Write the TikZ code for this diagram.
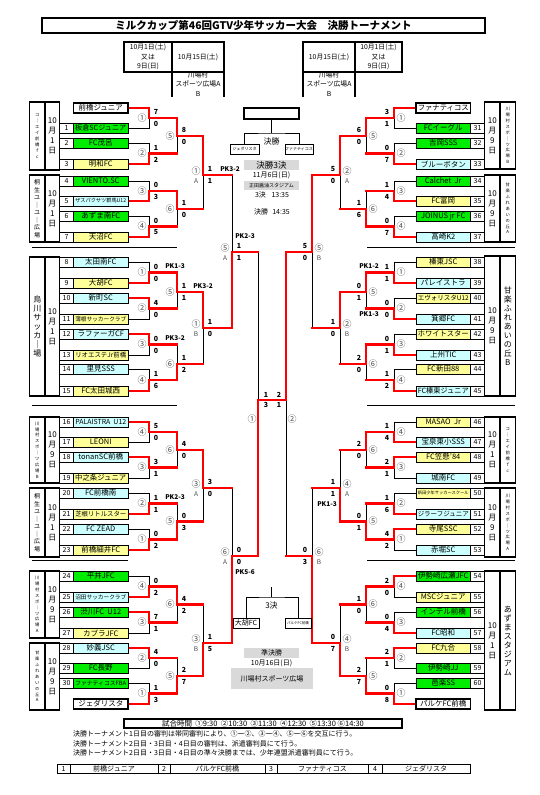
\documentclass[tikz,border=0pt]{standalone}
\usepackage{fontspec}
\setmainfont{Noto Sans CJK JP}
\usepackage{graphicx}
\usetikzlibrary{positioning}
\usetikzlibrary{calc}
\usetikzlibrary{backgrounds}

\definecolor{tgreen}{RGB}{0,236,0}
\definecolor{tyellow}{RGB}{255,255,153}
\definecolor{tcyan}{RGB}{204,255,255}
\definecolor{bandgray}{RGB}{217,217,217}
\definecolor{winred}{RGB}{255,0,0}

\newsavebox\namesave
\newcommand\fitname[1]{\sbox\namesave{#1}\ifdim\wd\namesave>51pt\resizebox{51pt}{!}{\usebox\namesave}\else\usebox\namesave\fi}
\newcommand\vsmall{\fontsize{4.3}{5.9}\selectfont}
\newcommand\vmid{\fontsize{6}{7.5}\selectfont}
\newcommand\vbig{\fontsize{8}{9}\selectfont}
\newcommand\lab[2]{#1\\{\fontsize{6.5}{6.5}\selectfont #2}}

% venue and date columns
\newcommand\groupL[5]{%
  \draw[gbox] (29.5,#1) rectangle (45,#2);
  \draw[gbox] (45,#1) rectangle (59.5,#2);
  \node[venue, font=#3] (lv#1) at (37.25,{(#1+#2)/2}) {#4};
  \node[datecol] (ld#1) at (52.25,{(#1+#2)/2}) {#5};}
\newcommand\groupR[5]{%
  \draw[gbox] (484.5,#1) rectangle (500,#2);
  \draw[gbox] (500,#1) rectangle (515.5,#2);
  \node[datecol] (rd#1) at (492.25,{(#1+#2)/2}) {#5};
  \node[venue, font=#3] (rv#1) at (507.75,{(#1+#2)/2}) {#4};}

% teams
\newcommand\teamL[5]{%
  \node[numcell] (#1n) at (66.5,#2) {#3};
  \node[namebox, fill=#4] (#1) at (100.75,#2) {\fitname{#5}};}
\newcommand\teamR[5]{%
  \node[numcell] (#1n) at (477.5,#2) {#3};
  \node[namebox, fill=#4] (#1) at (443.25,#2) {\fitname{#5}};}
\newcommand\seedL[3]{\node[seedbox] (#1) at (100.75,#2) {\fitname{#3}};}
\newcommand\seedR[3]{\node[seedbox] (#1) at (443.25,#2) {\fitname{#3}};}

% matches
\newcommand\firstbout[6]{%
  \coordinate (#1) at (#2,#3);
  \draw[wire] (#4) -| (#1);
  \draw[wire] (#5) -| (#1);
  \draw[win] (#6) -| (#1);}
\newcommand\laterbout[6]{%
  \coordinate (#1) at (#2,#3);
  \draw[wire] (#4) -| (#1);
  \draw[wire] (#5) -| (#1);
  \draw[win] (#4) -- (#4 -| #1);
  \draw[win] (#5) -- (#5 -| #1);
  \draw[win] (#6) -| (#1);}
\newcommand\tagL[4]{%
  \node[circ] (c#1) at ($(#1)+(-7,0)$) {#2};
  \node[score] (st#1) at ($(#1)+(7,-6)$) {#3};
  \node[score] (sb#1) at ($(#1)+(7,6)$) {#4};}
\newcommand\tagR[4]{%
  \node[circ] (c#1) at ($(#1)+(7,0)$) {#2};
  \node[score] (st#1) at ($(#1)+(-7,-6)$) {#3};
  \node[score] (sb#1) at ($(#1)+(-7,6)$) {#4};}

\begin{document}
\begin{tikzpicture}[x=1pt, y=-1pt,
    namebox/.style={draw, line width=1pt, minimum width=54.5pt, minimum height=10pt, inner sep=0pt, font=\fontsize{7.5}{8}\selectfont},
    seedbox/.style={namebox, line width=1.5pt, fill=white},
    numcell/.style={draw, line width=0.5pt, minimum width=14pt, minimum height=10pt, inner sep=0pt, font=\fontsize{7}{8}\selectfont},
    gbox/.style={draw, line width=1.6pt},
    venue/.style={align=center, inner sep=0pt},
    datecol/.style={align=center, inner sep=0pt, font=\fontsize{8}{10}\selectfont},
    wire/.style={draw, line width=0.6pt},
    win/.style={draw=winred, line width=2.6pt, line cap=rect},
    circ/.style={align=center, inner sep=0pt, text=black!70, font=\fontsize{9}{9}\selectfont},
    score/.style={inner sep=0pt, font=\bfseries\fontsize{7}{7}\selectfont},
    pk/.style={inner sep=0pt, font=\bfseries\fontsize{6.5}{7}\selectfont},
    band/.style={fill=bandgray, inner sep=0pt, minimum width=55pt, minimum height=10pt},
    tinybox/.style={draw, line width=0.8pt, inner sep=0pt, minimum height=10pt},
    hdr/.style={draw, line width=1.3pt},
    hdrtext/.style={align=center, inner sep=0pt, font=\fontsize{6.8}{9.5}\selectfont},
    divider/.style={draw, line width=0.7pt},
    note/.style={anchor=west, inner sep=0pt, font=\fontsize{7}{8}\selectfont},
    cell/.style={draw, line width=1pt, outer sep=0pt, inner sep=0pt, minimum height=8.5pt, font=\fontsize{7}{8}\selectfont}
]
    \useasboundingbox (0,0) rectangle (539,795);

    % Title
    \node[draw, line width=1.5pt, minimum width=443pt, minimum height=15pt, inner sep=0pt,
          font=\bfseries\fontsize{10.5}{11}\selectfont] (title) at (263.5,25.5)
          {ミルクカップ第46回GTV少年サッカー大会\hspace{1em}決勝トーナメント};

    % Date tables
    \draw[hdr] (124,42) rectangle (224,72);
    \draw[hdr] (172,42) -- (172,97);
    \draw[hdr] (224,72) -- (224,97);
    \node[hdrtext] (dl1) at (148,57) {10月1日(土)\\又は\\9日(日)};
    \node[hdrtext] (dl2) at (198,57) {10月15日(土)};
    \begin{scope}
        \clip (172,72.7) rectangle (224,97);
        \node[hdrtext] (dl3) at (198,84) {川場村\\スポーツ広場A\\B};
    \end{scope}
    \draw[hdr] (303,42) rectangle (402,72);
    \draw[hdr] (355,42) -- (355,97);
    \draw[hdr] (303,72) -- (303,97);
    \node[hdrtext] (dr1) at (329,57) {10月15日(土)};
    \node[hdrtext] (dr2) at (378.5,57) {10月1日(土)\\又は\\9日(日)};
    \begin{scope}
        \clip (303,72.7) rectangle (355,97);
        \node[hdrtext] (dr3) at (329,84) {川場村\\スポーツ広場A\\B};
    \end{scope}

    % Left groups
    \groupL{102}{170}{\vsmall}{コ\\｜\\エ\\イ\\前\\橋\\ｆ\\ｃ}{10\\月\\1\\日}
    \groupL{175}{242}{\vmid}{桐\\生\\ユ\\｜\\ユ\\｜\\広\\場}{10\\月\\1\\日}
    \groupL{257}{396}{\vbig}{烏\\川\\サ\\ッ\\カ\\｜\\場}{10\\月\\1\\日}
    \groupL{417}{483}{\vsmall}{川\\場\\村\\ス\\ポ\\｜\\ツ\\広\\場\\B}{10\\月\\9\\日}
    \groupL{488}{557}{\vmid}{桐\\生\\ユ\\｜\\ユ\\｜\\広\\場}{10\\月\\1\\日}
    \groupL{571}{638}{\vsmall}{川\\場\\村\\ス\\ポ\\｜\\ツ\\広\\場\\A}{10\\月\\9\\日}
    \groupL{643}{710}{\vsmall}{甘\\楽\\ふ\\れ\\あ\\い\\の\\丘\\A}{10\\月\\9\\日}

    % Right groups
    \groupR{102}{169}{\vsmall}{川\\場\\村\\ス\\ポ\\｜\\ツ\\広\\場\\B}{10\\月\\9\\日}
    \groupR{175}{242}{\vsmall}{甘\\楽\\ふ\\れ\\あ\\い\\の\\丘\\A}{10\\月\\9\\日}
    \groupR{256}{396}{\vbig}{甘\\楽\\ふ\\れ\\あ\\い\\の\\丘\\B}{10\\月\\9\\日}
    \groupR{417}{483}{\vsmall}{コ\\｜\\エ\\イ\\前\\橋\\ｆ\\ｃ}{10\\月\\1\\日}
    \groupR{488}{557}{\vsmall}{川\\場\\村\\ス\\ポ\\｜\\ツ\\広\\場\\A}{10\\月\\9\\日}
    \groupR{571}{710}{\vbig}{あ\\ず\\ま\\ス\\タ\\ジ\\ア\\ム}{10\\月\\1\\日}

    % Left teams
    \seedL{a0}{108}{前橋ジュニア}
    \teamL{a1}{128}{1}{tgreen}{板倉SCジュニア}
    \teamL{a2}{143}{2}{tgreen}{FC茂呂}
    \teamL{a3}{164}{3}{tyellow}{明和FC}
    \teamL{a4}{181}{4}{tgreen}{VIENTO.SC}
    \teamL{a5}{201}{5}{tcyan}{ザスパクサツ群馬U12}
    \teamL{a6}{216}{6}{tgreen}{あずま南FC}
    \teamL{a7}{237}{7}{tyellow}{天沼FC}
    \teamL{a8}{262}{8}{tcyan}{太田南FC}
    \teamL{a9}{283}{9}{tyellow}{大胡FC}
    \teamL{a10}{298}{10}{tcyan}{新町SC}
    \teamL{a11}{319}{11}{tyellow}{薄根サッカークラブ}
    \teamL{a12}{334}{12}{tcyan}{ラファーガCF}
    \teamL{a13}{355}{13}{tyellow}{リオエステJr前橋}
    \teamL{a14}{369}{14}{tcyan}{里見SSS}
    \teamL{a15}{391}{15}{tyellow}{FC太田城西}
    \teamL{a16}{422}{16}{tcyan}{PALAISTRA\ \ U12}
    \teamL{a17}{442}{17}{tyellow}{LEONI}
    \teamL{a18}{457}{18}{tcyan}{tonanSC前橋}
    \teamL{a19}{478}{19}{tyellow}{中之条ジュニア}
    \teamL{a20}{493}{20}{tcyan}{FC前橋南}
    \teamL{a21}{514}{21}{tyellow}{芝根リトルスター}
    \teamL{a22}{529}{22}{tcyan}{FC ZEAD}
    \teamL{a23}{550}{23}{tyellow}{前橋細井FC}
    \teamL{a24}{576}{24}{tgreen}{平井JFC}
    \teamL{a25}{597}{25}{tcyan}{沼田サッカークラブ}
    \teamL{a26}{612}{26}{tgreen}{渋川FC\ \ U12}
    \teamL{a27}{633}{27}{tyellow}{カブラJFC}
    \teamL{a28}{648}{28}{tcyan}{妙義JSC}
    \teamL{a29}{668}{29}{tgreen}{FC長野}
    \teamL{a30}{683}{30}{tgreen}{ファナティコスFBA}
    \seedL{a31}{704}{ジェダリスタ}

    % Right teams
    \seedR{b0}{108}{ファナティコス}
    \teamR{b31}{128}{31}{tgreen}{FCイーグル}
    \teamR{b32}{143}{32}{tgreen}{吉岡SSS}
    \teamR{b33}{164}{33}{tcyan}{ブルーボタン}
    \teamR{b34}{181}{34}{tgreen}{Calchet\ \ Jr}
    \teamR{b35}{201}{35}{tyellow}{FC富岡}
    \teamR{b36}{216}{36}{tgreen}{JOINUS jr FC}
    \teamR{b37}{237}{37}{tcyan}{高崎K2}
    \teamR{b38}{262}{38}{tyellow}{榛東JSC}
    \teamR{b39}{283}{39}{tcyan}{パレイストラ}
    \teamR{b40}{298}{40}{tyellow}{エヴォリスタU12}
    \teamR{b41}{319}{41}{tcyan}{箕郷FC}
    \teamR{b42}{334}{42}{tyellow}{ホワイトスター}
    \teamR{b43}{355}{43}{tcyan}{上州TIC}
    \teamR{b44}{369}{44}{tyellow}{FC新田88}
    \teamR{b45}{391}{45}{tcyan}{FC榛東ジュニア}
    \teamR{b46}{422}{46}{tyellow}{MASAO\ \ Jr}
    \teamR{b47}{442}{47}{tcyan}{宝泉東小SSS}
    \teamR{b48}{457}{48}{tyellow}{FC笠懸'84}
    \teamR{b49}{478}{49}{tcyan}{城南FC}
    \teamR{b50}{493}{50}{tyellow}{新田少年サッカースクール}
    \teamR{b51}{514}{51}{tcyan}{ジラーフジュニア}
    \teamR{b52}{529}{52}{tyellow}{寺尾SSC}
    \teamR{b53}{550}{53}{tcyan}{赤堀SC}
    \teamR{b54}{576}{54}{tgreen}{伊勢崎広瀬JFC}
    \teamR{b55}{597}{55}{tyellow}{MSCジュニア}
    \teamR{b56}{612}{56}{tgreen}{インテル前橋}
    \teamR{b57}{633}{57}{tcyan}{FC昭和}
    \teamR{b58}{648}{58}{tyellow}{FC九合}
    \teamR{b59}{668}{59}{tgreen}{伊勢崎JJ}
    \teamR{b60}{683}{60}{tgreen}{邑楽SS}
    \seedR{b61}{704}{パルケFC前橋}

    % Separators
    \draw[divider] (32,247) -- (177,247);
    \draw[divider] (32,405) -- (177,405);
    \draw[divider] (32,560) -- (128,560);
    \draw[divider] (367,247) -- (515,247);
    \draw[divider] (367,405) -- (515,405);
    \draw[divider] (367,560) -- (515,560);

    % Bracket lines
    \begin{scope}[on background layer]
        % left top
        \firstbout{l1}{149}{118}{a0.east}{a1.east}{a0.east}
        \firstbout{l2}{149}{153.5}{a2.east}{a3.east}{a3.east}
        \laterbout{l5}{177}{136}{l1}{l2}{l1}
        \firstbout{l3}{149}{191}{a4.east}{a5.east}{a5.east}
        \firstbout{l4}{149}{226.5}{a6.east}{a7.east}{a7.east}
        \laterbout{l6}{177}{209}{l3}{l4}{l3}
        \laterbout{l1A}{203}{175}{l5}{l6}{l5}
        % left 8-15
        \firstbout{m1}{149}{272.5}{a8.east}{a9.east}{a9.east}
        \firstbout{m2}{149}{308.5}{a10.east}{a11.east}{a10.east}
        \laterbout{m5}{177}{292}{m1}{m2}{m1}
        \firstbout{m3}{149}{344.5}{a12.east}{a13.east}{a12.east}
        \firstbout{m4}{149}{380}{a14.east}{a15.east}{a15.east}
        \laterbout{m6}{177}{364}{m3}{m4}{m4}
        \laterbout{l1B}{203}{328}{m5}{m6}{m5}
        \laterbout{l5A}{232}{252}{l1A}{l1B}{l1B}
        % left 16-23
        \firstbout{n4}{149}{432}{a16.east}{a17.east}{a16.east}
        \firstbout{n3}{149}{467.5}{a18.east}{a19.east}{a18.east}
        \laterbout{n6}{177}{450}{n4}{n3}{n4}
        \firstbout{n2}{149}{503.5}{a20.east}{a21.east}{a21.east}
        \firstbout{n1}{149}{539.5}{a22.east}{a23.east}{a23.east}
        \laterbout{n5}{177}{521.5}{n2}{n1}{n1}
        \laterbout{l3A}{203}{488}{n6}{n5}{n6}
        % left 24-30
        \firstbout{p4}{149}{586.5}{a24.east}{a25.east}{a25.east}
        \firstbout{p3}{149}{622.5}{a26.east}{a27.east}{a26.east}
        \laterbout{p6}{177}{604.5}{p4}{p3}{p4}
        \firstbout{p2}{149}{658}{a28.east}{a29.east}{a28.east}
        \firstbout{p1}{149}{693.5}{a30.east}{a31.east}{a31.east}
        \laterbout{p5}{177}{676}{p2}{p1}{p1}
        \laterbout{l3B}{203}{643}{p6}{p5}{p5}
        \laterbout{l6A}{232}{556}{l3A}{l3B}{l3B}
        % right top
        \firstbout{r1}{394}{118}{b0.west}{b31.west}{b0.west}
        \firstbout{r2}{394}{153.5}{b32.west}{b33.west}{b33.west}
        \laterbout{r5}{366}{136}{r1}{r2}{r1}
        \firstbout{r3}{394}{191}{b34.west}{b35.west}{b35.west}
        \firstbout{r4}{394}{226.5}{b36.west}{b37.west}{b37.west}
        \laterbout{r6}{366}{209}{r3}{r4}{r4}
        \laterbout{r2A}{340}{175}{r5}{r6}{r5}
        % right 38-45
        \firstbout{q1}{394}{272.5}{b38.west}{b39.west}{b39.west}
        \firstbout{q2}{394}{308.5}{b40.west}{b41.west}{b41.west}
        \laterbout{q5}{366}{292}{q1}{q2}{q1}
        \firstbout{q3}{394}{344.5}{b42.west}{b43.west}{b43.west}
        \firstbout{q4}{394}{380}{b44.west}{b45.west}{b45.west}
        \laterbout{q6}{366}{364}{q3}{q4}{q3}
        \laterbout{r2B}{340}{328}{q5}{q6}{q5}
        \laterbout{r5B}{312}{252}{r2A}{r2B}{r2A}
        % right 46-53
        \firstbout{u4}{394}{432}{b46.west}{b47.west}{b47.west}
        \firstbout{u3}{394}{467.5}{b48.west}{b49.west}{b48.west}
        \laterbout{u6}{366}{450}{u4}{u3}{u4}
        \firstbout{u2}{394}{503.5}{b50.west}{b51.west}{b51.west}
        \firstbout{u1}{394}{539.5}{b52.west}{b53.west}{b52.west}
        \laterbout{u5}{366}{521.5}{u2}{u1}{u1}
        \laterbout{r4A}{340}{488}{u6}{u5}{u5}
        % right 54-60
        \firstbout{v4}{394}{586.5}{b54.west}{b55.west}{b54.west}
        \firstbout{v3}{394}{622.5}{b56.west}{b57.west}{b57.west}
        \laterbout{v6}{366}{604.5}{v4}{v3}{v4}
        \firstbout{v2}{394}{658}{b58.west}{b59.west}{b58.west}
        \firstbout{v1}{394}{693.5}{b60.west}{b61.west}{b61.west}
        \laterbout{v5}{366}{676}{v2}{v1}{v1}
        \laterbout{r4B}{340}{643}{v6}{v5}{v5}
        \laterbout{r6B}{312}{556}{r4A}{r4B}{r4B}
        % semi finals
        \laterbout{s1}{258}{400}{l5A}{l6A}{l6A}
        \laterbout{s2}{286}{400}{r5B}{r6B}{r5B}
        \draw[win] (s1) -- (s2);
    \end{scope}

    % Left labels
    \tagL{l1}{①}{7}{0}
    \tagL{l2}{②}{1}{2}
    \tagL{l5}{⑤}{8}{0}
    \tagL{l3}{③}{0}{3}
    \tagL{l4}{④}{0}{5}
    \tagL{l6}{⑥}{1}{0}
    \tagL{l1A}{\lab{①}{A}}{1}{1}
    \node[pk] (pkl1A) at ($(l1A)+(27,-6)$) {PK3-2};
    \tagL{m1}{①}{0}{0}
    \node[pk] (pkm1) at ($(m1)+(26,-6)$) {PK1-3};
    \tagL{m2}{②}{4}{0}
    \tagL{m5}{⑤}{1}{1}
    \node[pk] (pkm5) at ($(m5)+(26,-6)$) {PK3-2};
    \tagL{m3}{③}{0}{0}
    \node[pk] (pkm3) at ($(m3)+(26,-6)$) {PK3-2};
    \tagL{m4}{④}{1}{6}
    \tagL{m6}{⑥}{1}{2}
    \tagL{l1B}{\lab{①}{B}}{1}{0}
    \tagL{l5A}{\lab{⑤}{A}}{1}{1}
    \node[pk] (pkl5A) at ($(l5A)+(13,-16)$) {PK2-3};
    \tagL{n4}{④}{5}{0}
    \tagL{n3}{③}{3}{1}
    \tagL{n6}{⑥}{4}{0}
    \tagL{n2}{②}{1}{1}
    \node[pk] (pkn2) at ($(n2)+(26,-6)$) {PK2-3};
    \tagL{n1}{①}{0}{2}
    \tagL{n5}{⑤}{0}{3}
    \tagL{l3A}{\lab{③}{A}}{3}{0}
    \tagL{p4}{④}{0}{2}
    \tagL{p3}{③}{7}{1}
    \tagL{p6}{⑥}{4}{2}
    \tagL{p2}{②}{4}{0}
    \tagL{p1}{①}{1}{3}
    \tagL{p5}{⑤}{2}{7}
    \tagL{l3B}{\lab{③}{B}}{1}{5}
    \tagL{l6A}{\lab{⑥}{A}}{0}{0}
    \node[pk] (pkl6A) at ($(l6A)+(13,16)$) {PK5-6};

    % Right labels
    \tagR{r1}{①}{3}{1}
    \tagR{r2}{②}{0}{7}
    \tagR{r5}{⑤}{6}{0}
    \tagR{r3}{③}{1}{4}
    \tagR{r4}{④}{0}{7}
    \tagR{r6}{⑥}{1}{6}
    \tagR{r2A}{\lab{②}{A}}{5}{0}
    \tagR{q1}{①}{1}{1}
    \node[pk] (pkq1) at ($(q1)+(-25,-6)$) {PK1-2};
    \tagR{q2}{②}{0}{0}
    \node[pk] (pkq2) at ($(q2)+(-25,6)$) {PK1-3};
    \tagR{q5}{⑤}{0}{1}
    \tagR{q3}{③}{0}{1}
    \tagR{q4}{④}{1}{2}
    \tagR{q6}{⑥}{2}{0}
    \tagR{r2B}{\lab{②}{B}}{1}{0}
    \tagR{r5B}{\lab{⑤}{B}}{5}{0}
    \tagR{u4}{④}{1}{4}
    \tagR{u3}{③}{2}{1}
    \tagR{u6}{⑥}{2}{0}
    \tagR{u2}{②}{1}{6}
    \tagR{u1}{①}{4}{2}
    \tagR{u5}{⑤}{0}{1}
    \tagR{r4A}{\lab{④}{A}}{1}{1}
    \node[pk] (pkr4A) at ($(r4A)+(-13,16)$) {PK1-3};
    \tagR{v4}{④}{2}{0}
    \tagR{v3}{③}{0}{4}
    \tagR{v6}{⑥}{1}{0}
    \tagR{v2}{②}{2}{1}
    \tagR{v1}{①}{0}{8}
    \tagR{v5}{⑤}{2}{7}
    \tagR{r4B}{\lab{④}{B}}{0}{7}
    \tagR{r6B}{\lab{⑥}{B}}{0}{3}

    % Semi final labels
    \node[score] (s1t) at ($(s1)+(8,-5)$) {1};
    \node[score] (s1b) at ($(s1)+(8,5)$) {3};
    \node[score] (s2t) at ($(s2)+(-7,-5)$) {2};
    \node[score] (s2b) at ($(s2)+(-7,5)$) {1};
    \node[circ] (cs1) at ($(s1)+(-6,19)$) {①};
    \node[circ] (cs2) at ($(s2)+(6,19)$) {②};

    % Final
    \node[draw, line width=1.5pt, minimum width=55pt, minimum height=11pt, inner sep=0pt] (final) at (271.5,113.5) {};
    \coordinate (fk) at (271.5,133);
    \node[tinybox, minimum width=29pt, font=\fontsize{4}{4}\selectfont] (fj) at (244.5,149) {ジェダリスタ};
    \node[tinybox, minimum width=28pt, font=\fontsize{4}{4}\selectfont] (ff) at (299,149) {ファナティコス};
    \draw[wire] (final.south) -- (fk);
    \draw[wire] (fj.north) |- (fk) -| (ff.north);
    \node[inner sep=0pt, font=\fontsize{8}{8}\selectfont] (fkt) at (271.5,141) {決勝};
    \node[band, font=\fontsize{8.5}{9}\selectfont] (fb1) at (271.5,165) {決勝3決};
    \node[inner sep=0pt, font=\fontsize{7}{8}\selectfont] (fd) at (271.5,175.5) {11月6日(日)};
    \node[band, minimum height=9pt, font=\fontsize{5}{5}\selectfont] (fb2) at (271.5,185.5) {正田醤油スタジアム};
    \node[inner sep=0pt, font=\fontsize{7}{8}\selectfont] (ft1) at (272,195) {3決\hspace{0.8em}13:35};
    \node[inner sep=0pt, font=\fontsize{7}{8}\selectfont] (ft2) at (272,212) {決勝\hspace{0.6em}14:35};

    % Third place
    \coordinate (tk) at (271.5,597);
    \node[tinybox, minimum width=26pt, font=\fontsize{7}{7}\selectfont] (tj) at (246,623) {大胡FC};
    \node[tinybox, minimum width=26pt, font=\fontsize{3.5}{4}\selectfont] (tf) at (298,623) {パルケFC前橋};
    \draw[wire] (271.5,587) -- (tk);
    \draw[wire] (tj.north) |- (tk) -| (tf.north);
    \node[inner sep=0pt, font=\fontsize{8}{8}\selectfont] (tkt) at (271.5,605) {3決};
    \node[band, font=\fontsize{7}{8}\selectfont] (sb1) at (271.5,653) {準決勝};
    \node[inner sep=0pt, font=\fontsize{7}{8}\selectfont] (sd) at (271.5,663.5) {10月16日(日)};
    \node[band, minimum width=82pt, minimum height=21pt, font=\fontsize{7}{8}\selectfont] (sb2) at (272,678.5) {川場村スポーツ広場};

    % Footer
    \node[draw, line width=1.2pt, minimum width=278pt, minimum height=9pt, inner sep=0pt,
          font=\fontsize{7.5}{8}\selectfont] (times) at (263,723.5)
          {試合時間\ \ ①9:30\ \ ②10:30\ \ ③11:30\ \ ④12:30\ \ ⑤13:30\ ⑥14:30};
    \node[note] (n1) at (73,734) {決勝トーナメント1日目の審判は帯同審判により、①ー②、③ー④、⑤ー⑥を交互に行う。};
    \node[note] (n2) at (73,743.5) {決勝トーナメント2日目・3日目・4日目の審判は、派遣審判員にて行う。};
    \node[note] (n3) at (73,753) {決勝トーナメント2日目・3日目・4日目の準々決勝までは、少年連盟派遣審判員にて行う。};

    \node[cell, minimum width=13pt] (k1) at (63.5,769) {1};
    \node[cell, minimum width=88pt, right=0pt of k1] (k1n) {前橋ジュニア};
    \node[cell, minimum width=12pt, right=0pt of k1n] (k2) {2};
    \node[cell, minimum width=95pt, right=0pt of k2] (k2n) {パルケFC前橋};
    \node[cell, minimum width=12pt, right=0pt of k2n] (k3) {3};
    \node[cell, minimum width=91pt, right=0pt of k3] (k3n) {ファナティコス};
    \node[cell, minimum width=14pt, right=0pt of k3n] (k4) {4};
    \node[cell, minimum width=88pt, right=0pt of k4] (k4n) {ジェダリスタ};
\end{tikzpicture}
\end{document}
